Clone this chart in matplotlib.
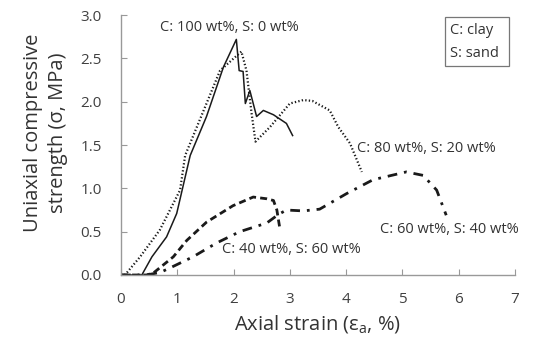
import matplotlib
matplotlib.use("Agg")
import matplotlib.pyplot as plt
from matplotlib.patches import Rectangle

plt.rcParams['font.family'] = ['Open Sans', 'DejaVu Sans']

# C: 100 wt%, S: 0 wt% (solid)
c100_x = [0.0, 0.37, 0.55, 0.81, 0.99, 1.23, 1.52, 1.82, 2.05, 2.10, 2.17, 2.21, 2.29, 2.41, 2.53, 2.71, 2.94, 3.05]
c100_y = [0.0, 0.0, 0.21, 0.44, 0.71, 1.38, 1.83, 2.40, 2.72, 2.36, 2.35, 1.98, 2.13, 1.83, 1.90, 1.85, 1.75, 1.61]

# C: 80 wt%, S: 20 wt% (dotted)
c80_x = [0.0, 0.07, 0.34, 0.69, 1.05, 1.14, 1.76, 2.14, 2.23, 2.32, 2.39, 2.65, 3.00, 3.24, 3.40, 3.71, 3.86, 4.07, 4.28]
c80_y = [0.0, 0.0, 0.21, 0.52, 0.98, 1.38, 2.36, 2.58, 2.36, 1.87, 1.54, 1.71, 1.98, 2.02, 2.01, 1.90, 1.71, 1.52, 1.19]

# C: 60 wt%, S: 40 wt% (dash-dot)
c60_x = [0.0, 0.45, 0.70, 0.93, 1.28, 1.70, 2.11, 2.59, 2.80, 2.94, 3.24, 3.53, 4.01, 4.48, 5.07, 5.37, 5.61, 5.78]
c60_y = [0.0, 0.0, 0.03, 0.10, 0.21, 0.37, 0.50, 0.60, 0.70, 0.75, 0.74, 0.76, 0.94, 1.10, 1.19, 1.15, 0.98, 0.69]

# C: 40 wt%, S: 60 wt% (dashed)
c40_x = [0.0, 0.45, 0.57, 0.93, 1.17, 1.52, 1.99, 2.35, 2.59, 2.71, 2.77, 2.82]
c40_y = [0.0, 0.0, 0.02, 0.21, 0.40, 0.61, 0.80, 0.90, 0.88, 0.86, 0.75, 0.55]

xticks = [0, 1, 2, 3, 4, 5, 6, 7]
yticks = [0.0, 0.5, 1.0, 1.5, 2.0, 2.5, 3.0]
xlabel = "Axial strain (\u03b5$_{\\mathregular{a}}$, %)"
ylabel = "Uniaxial compressive\nstrength (\u03c3, MPa)"
labels = ["C: 100 wt%, S: 0 wt%", "C: 80 wt%, S: 20 wt%", "C: 60 wt%, S: 40 wt%", "C: 40 wt%, S: 60 wt%"]
legend_lines = ["C: clay", "S: sand"]

fig = plt.figure(figsize=(5.33, 3.37), dpi=100)
ax = fig.add_axes([0.227, 0.184, 0.739, 0.771])

lc = '#1a1a1a'
ax.plot(c100_x, c100_y, color=lc, lw=1.1, ls='-')
ax.plot(c80_x, c80_y, color=lc, lw=1.6, ls=(0, (0.6, 1.0)))
ax.plot(c60_x, c60_y, color=lc, lw=2.0, ls=(0, (3.5, 2.5, 1.0, 2.5)))
ax.plot(c40_x, c40_y, color=lc, lw=2.0, ls=(0, (2.5, 1.5)))

tc = '#333333'
fs_ann = 10.5
ax.text(0.69, 2.86, labels[0], fontsize=fs_ann, color=tc, va='center', ha='left')
ax.text(4.19, 1.46, labels[1], fontsize=fs_ann, color=tc, va='center', ha='left')
ax.text(4.60, 0.52, labels[2], fontsize=fs_ann, color=tc, va='center', ha='left')
ax.text(1.79, 0.30, labels[3], fontsize=fs_ann, color=tc, va='center', ha='left')

ax.add_patch(Rectangle((0.822, 0.804), 0.163, 0.188, transform=ax.transAxes,
                       fc='white', ec='#777777', lw=0.9, clip_on=False))
ax.text(0.836, 0.942, legend_lines[0], transform=ax.transAxes, fontsize=fs_ann,
        color=tc, va='center', ha='left')
ax.text(0.836, 0.854, legend_lines[1], transform=ax.transAxes, fontsize=fs_ann,
        color=tc, va='center', ha='left')

ax.set_xlim(0, 7)
ax.set_ylim(0, 3.0)
ax.set_xticks(xticks)
ax.set_yticks(yticks)
ax.set_xticklabels([str(v) for v in xticks])
ax.set_yticklabels([f"{v:.1f}" for v in yticks])

for s in ['top', 'right']:
    ax.spines[s].set_visible(False)
for s in ['left', 'bottom']:
    ax.spines[s].set_color('#999999')
    ax.spines[s].set_linewidth(1.0)
ax.tick_params(direction='in', length=4, color='#999999', labelsize=11, labelcolor='#404040')
ax.tick_params(axis='x', pad=12)
ax.tick_params(axis='y', pad=14)

ax.set_xlabel(xlabel, fontsize=14.5, color='#333333', va='center')
ax.xaxis.set_label_coords(0.5, -0.19)
ax.set_ylabel(ylabel, fontsize=14.5, color='#333333', linespacing=1.35, va='center')
ax.yaxis.set_label_coords(-0.192, 0.546)

fig.savefig("out.png", dpi=100)
